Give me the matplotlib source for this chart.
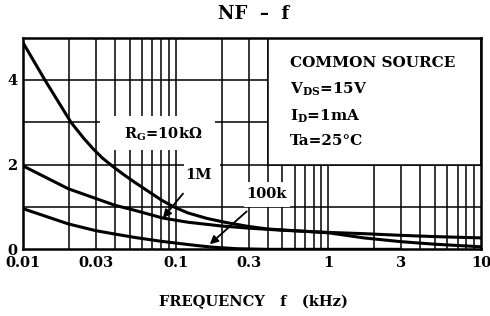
import matplotlib
matplotlib.use("Agg")
import matplotlib.pyplot as plt
from matplotlib.patches import Rectangle

# curve data (frequency in kHz, NF in dB)
f_10k = [0.01, 0.0139, 0.0206, 0.025, 0.029, 0.033, 0.038, 0.045, 0.054, 0.068,
         0.08, 0.096, 0.12, 0.16, 0.216, 0.3, 0.4, 0.6, 1.0, 1.7, 3.0, 5.0, 10.0]
nf_10k = [4.88, 4.0, 3.0, 2.62, 2.36, 2.16, 1.98, 1.78, 1.58, 1.34,
          1.17, 1.01, 0.86, 0.73, 0.63, 0.54, 0.48, 0.44, 0.39, 0.27, 0.18, 0.12, 0.06]

f_1m = [0.01, 0.0198, 0.03, 0.04, 0.054, 0.082, 0.12, 0.2, 0.3, 0.5,
        1.0, 1.7, 3.0, 5.0, 10.0]
nf_1m = [1.97, 1.43, 1.2, 1.04, 0.92, 0.74, 0.64, 0.55, 0.5, 0.45,
         0.4, 0.37, 0.33, 0.3, 0.27]

f_100k = [0.01, 0.0198, 0.03, 0.04, 0.054, 0.08, 0.11, 0.137, 0.175, 0.25, 0.4, 3.0]
nf_100k = [0.96, 0.6, 0.44, 0.36, 0.28, 0.19, 0.13, 0.09, 0.05, 0.015, 0.0, 0.0]

xticks = [0.01, 0.03, 0.1, 0.3, 1, 3, 10]
xticklabels = ["0.01", "0.03", "0.1", "0.3", "1", "3", "10"]
yticks = [0, 2, 4]
conditions = ["COMMON SOURCE", r"V$_{\mathregular{DS}}$=15V",
              r"I$_{\mathregular{D}}$=1mA", "Ta=25°C"]

plt.rcParams['font.family'] = ['DejaVu Serif']
plt.rcParams['font.weight'] = 'bold'
plt.rcParams['mathtext.default'] = 'regular'

fig = plt.figure(figsize=(4.9, 3.16), dpi=100)
ax = fig.add_axes([0.047, 0.211, 0.935, 0.67])
ax.set_xscale('log')
ax.set_xlim(0.01, 10)
ax.set_ylim(0, 5)

# grid drawn by hand so it sits under the label patches
grid_x = [m * d for d in (0.01, 0.1, 1) for m in range(1, 10)][1:]
for gx in grid_x:
    ax.axvline(gx, color='black', lw=1.1, zorder=1)
for gy in [1, 2, 3, 4]:
    ax.axhline(gy, color='black', lw=1.1, zorder=1)

# white patches behind labels
ax.add_patch(Rectangle((0.4, 2), 9.6, 3, facecolor='white', edgecolor='black',
                       lw=1.1, zorder=2))
ax.add_patch(Rectangle((0.032, 2.35), 0.148, 0.8, facecolor='white',
                       edgecolor='none', zorder=2))
ax.add_patch(Rectangle((0.113, 1.55), 0.082, 0.55, facecolor='white',
                       edgecolor='none', zorder=2))
ax.add_patch(Rectangle((0.28, 1.0), 0.28, 0.6, facecolor='white',
                       edgecolor='none', zorder=2))

for fx, ny in [(f_10k, nf_10k), (f_1m, nf_1m), (f_100k, nf_100k)]:
    ax.plot(fx, ny, color='black', lw=2.2, zorder=4, solid_capstyle='butt')

ax.text(0.083, 2.72, r"R$_{\mathregular{G}}$=10kΩ", fontsize=10.5,
        ha='center', va='center', zorder=5)
ax.annotate("1M", xy=(0.0825, 0.74), xytext=(0.14, 1.75), fontsize=10.5,
            ha='center', va='center', zorder=5,
            arrowprops=dict(arrowstyle='-|>', color='black', lw=1.3,
                            mutation_scale=12, shrinkA=8, shrinkB=0))
ax.annotate("100k", xy=(0.167, 0.12), xytext=(0.39, 1.3), fontsize=10.5,
            ha='center', va='center', zorder=5,
            arrowprops=dict(arrowstyle='-|>', color='black', lw=1.3,
                            mutation_scale=12, shrinkA=8, shrinkB=0))

ty = [4.4, 3.78, 3.14, 2.55]
for line, y in zip(conditions, ty):
    ax.text(0.56, y, line, fontsize=11, ha='left', va='center', zorder=5)

ax.set_xticks(xticks)
ax.set_xticklabels(xticklabels)
ax.set_xticks([], minor=True)
ax.set_yticks(yticks)
ax.tick_params(length=0, labelsize=10.5)
ax.tick_params(axis='x', pad=5)
ax.tick_params(axis='y', pad=4)
for s in ax.spines.values():
    s.set_linewidth(1.8)
    s.set_zorder(6)

fig.text(0.518, 0.955, "NF  –  f", fontsize=13, ha='center', va='center')
fig.text(0.517, 0.045, "FREQUENCY   f   (kHz)", fontsize=10.5, ha='center',
         va='center')

fig.savefig("out.png", dpi=100)
